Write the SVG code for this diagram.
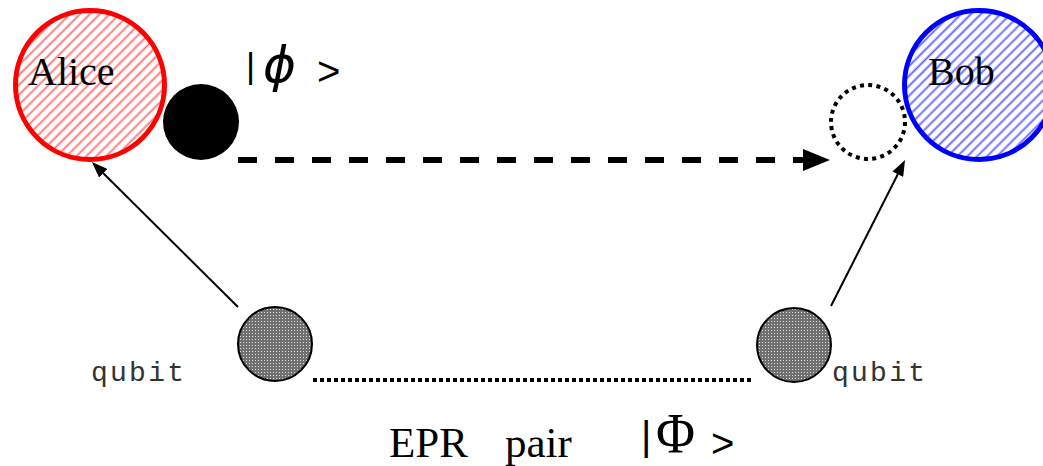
<svg xmlns="http://www.w3.org/2000/svg" width="1043" height="466" viewBox="0 0 1043 466">
  <style>
    .serif { font-family: "Liberation Serif", "Times New Roman", serif; fill: #000; }
    .sans { font-family: "Liberation Sans", Arial, sans-serif; fill: #000; }
    .mono { font-family: "Liberation Mono", "Courier New", monospace; fill: #333; }
    .qubit { fill: url(#dots); stroke: #000; stroke-width: 2; }
    .link { fill: none; stroke: #000; }
  </style>
  <defs>
    <pattern id="hatchRed" width="7" height="7" patternUnits="userSpaceOnUse" patternTransform="rotate(45)">
      <rect width="7" height="7" fill="#fff"/>
      <line x1="3.5" y1="0" x2="3.5" y2="7" stroke="#ff7070" stroke-width="1.8"/>
    </pattern>
    <pattern id="hatchBlue" width="7" height="7" patternUnits="userSpaceOnUse" patternTransform="rotate(45)">
      <rect width="7" height="7" fill="#fff"/>
      <line x1="3.5" y1="0" x2="3.5" y2="7" stroke="#6060ff" stroke-width="1.8"/>
    </pattern>
    <pattern id="dots" width="3" height="3" patternUnits="userSpaceOnUse">
      <rect width="3" height="3" fill="#707070"/>
      <rect width="1" height="1" fill="#e0e0e0"/>
    </pattern>
    <marker id="headBig" viewBox="0 0 27 22" markerWidth="27" markerHeight="22" refX="0" refY="11" orient="auto" markerUnits="userSpaceOnUse">
      <path d="M0,0 L27,11 L0,22 z" fill="#000"/>
    </marker>
    <marker id="headSmall" viewBox="0 0 16 12" markerWidth="16" markerHeight="12" refX="0" refY="6" orient="auto" markerUnits="userSpaceOnUse">
      <path d="M0,0 L16,6 L0,12 z" fill="#000"/>
    </marker>
  </defs>

  <rect width="1043" height="466" fill="#fff"/>

  <!-- connectors -->
  <g id="connectors">
    <line class="link" x1="238" y1="160" x2="803" y2="160" stroke-width="6" stroke-dasharray="19 18" marker-end="url(#headBig)"/>
    <line class="link" x1="238" y1="307" x2="103.3" y2="173.3" stroke-width="2" marker-end="url(#headSmall)"/>
    <line class="link" x1="831" y1="306" x2="897.8" y2="174.3" stroke-width="2" marker-end="url(#headSmall)"/>
    <line class="link" x1="313" y1="380" x2="752" y2="380" stroke-width="4" stroke-dasharray="4 3"/>
  </g>

  <!-- parties -->
  <g id="alice">
    <circle cx="90" cy="85" r="74.5" fill="url(#hatchRed)" stroke="#ff0000" stroke-width="5"/>
    <text class="serif" x="28" y="85" font-size="40">Alice</text>
  </g>
  <g id="bob">
    <circle cx="979" cy="85" r="74.5" fill="url(#hatchBlue)" stroke="#0000ff" stroke-width="5"/>
    <text class="serif" x="928" y="85" font-size="40">Bob</text>
  </g>

  <!-- state to be teleported -->
  <g id="state">
    <circle cx="201" cy="122" r="38" fill="#000"/>
    <text class="sans" x="246" y="78" font-size="35">|</text>
    <text x="263" y="82" font-size="50" font-family="DejaVu Sans, sans-serif" font-style="italic">ϕ</text>
    <text class="sans" x="317" y="85" font-size="40">&gt;</text>
  </g>
  <g id="target">
    <circle cx="868" cy="122" r="37" fill="none" stroke="#000" stroke-width="4" stroke-dasharray="4 4.3"/>
  </g>

  <!-- EPR pair -->
  <g id="qubitA">
    <circle class="qubit" cx="275" cy="344" r="37"/>
    <text class="mono" x="91" y="381" font-size="28" textLength="93">qubit</text>
  </g>
  <g id="qubitB">
    <circle class="qubit" cx="794" cy="345" r="37"/>
    <text class="mono" x="832" y="381" font-size="28" textLength="93">qubit</text>
  </g>

  <g id="eprLabel">
    <text class="serif" y="457" font-size="43"><tspan x="389">EPR</tspan><tspan x="505">pair</tspan></text>
    <text class="sans" x="641" y="450" font-size="40">|</text>
    <text class="serif" x="656" y="453" font-size="58" textLength="39" lengthAdjust="spacingAndGlyphs">Φ</text>
    <text class="sans" x="711" y="457" font-size="40">&gt;</text>
  </g>
</svg>
